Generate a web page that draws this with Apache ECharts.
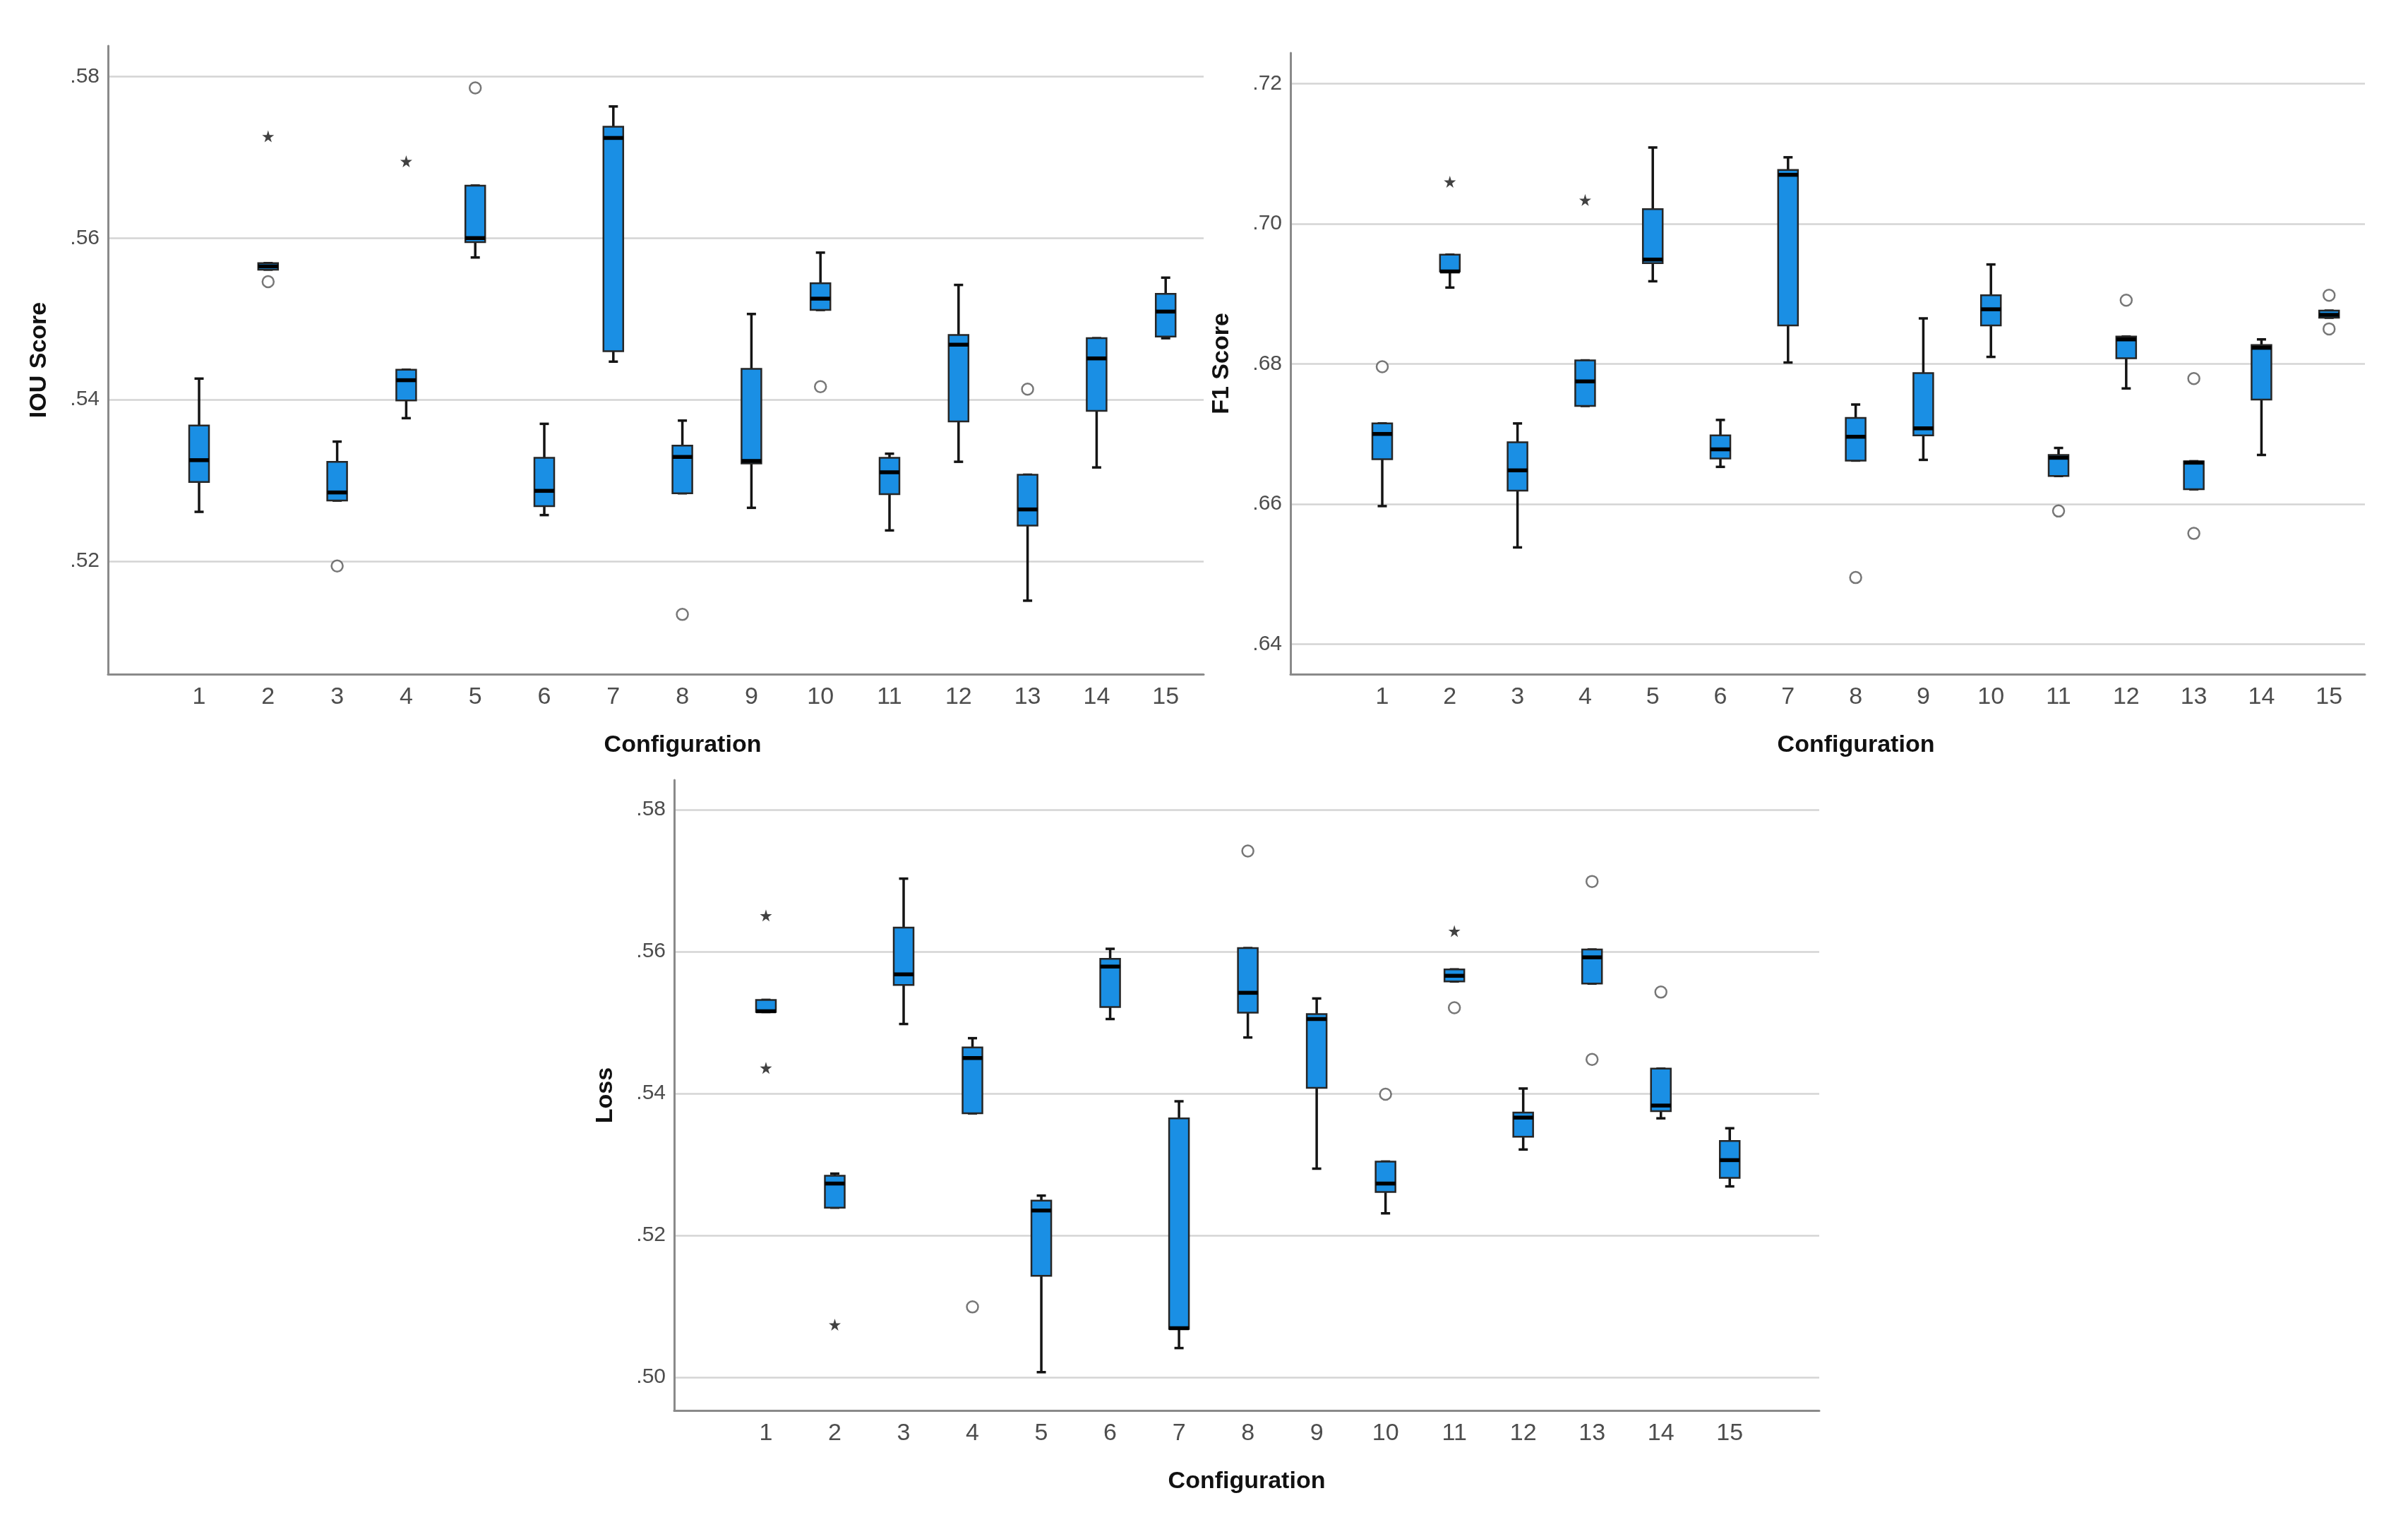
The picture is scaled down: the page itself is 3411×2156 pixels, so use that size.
<!DOCTYPE html>
<html>
<head>
<meta charset="utf-8">
<title>Configuration box plots</title>
<script src="https://cdn.jsdelivr.net/npm/echarts@6/dist/echarts.min.js"></script>
<style>
  html, body { margin: 0; padding: 0; background: #fff; }
  #chart { width: 3411px; height: 2156px; }
</style>
</head>
<body>
<div id="chart"></div>
<script>
  // configurations on the x axis
  var configs = [1, 2, 3, 4, 5, 6, 7, 8, 9, 10, 11, 12, 13, 14, 15];

  // each box: [lower whisker, Q1, median, Q3, upper whisker]
  var iouBoxes = [
    [.5261, .5298, .5325, .5368, .5426],
    [.5561, .5561, .5565, .5569, .5569],
    [.5275, .5275, .5285, .5323, .5348],
    [.5377, .5399, .5424, .5437, .5437],
    [.5576, .5595, .5600, .5665, .5665],
    [.5257, .5268, .5287, .5328, .5370],
    [.5447, .5460, .5724, .5738, .5763],
    [.5284, .5284, .5329, .5343, .5374],
    [.5266, .5321, .5324, .5438, .5506],
    [.5511, .5511, .5525, .5544, .5582],
    [.5238, .5283, .5310, .5328, .5333],
    [.5323, .5373, .5468, .5480, .5542],
    [.5151, .5244, .5264, .5307, .5307],
    [.5316, .5386, .5451, .5476, .5476],
    [.5476, .5478, .5509, .5531, .5551]
  ];
  var iouCircles = [[2, .5546], [3, .5194], [5, .5786], [8, .5134], [10, .5416], [13, .5413]];
  var iouStars = [[2, .5726], [4, .5695]];

  var f1Boxes = [
    [.6597, .6664, .6700, .6715, .6715],
    [.6909, .6932, .6932, .6956, .6956],
    [.6538, .6619, .6648, .6688, .6715],
    [.6740, .6740, .6775, .6805, .6805],
    [.6918, .6944, .6949, .7021, .7109],
    [.6653, .6665, .6678, .6698, .6720],
    [.6802, .6855, .7070, .7077, .7095],
    [.6662, .6662, .6696, .6723, .6742],
    [.6663, .6698, .6708, .6787, .6865],
    [.6810, .6855, .6878, .6898, .6942],
    [.6640, .6640, .6666, .6670, .6680],
    [.6765, .6808, .6835, .6839, .6839],
    [.6621, .6621, .6659, .6661, .6661],
    [.6670, .6749, .6823, .6827, .6835],
    [.6866, .6866, .6870, .6876, .6876]
  ];
  var f1Circles = [[1, .6796], [8, .6495], [11, .6590], [12, .6891], [13, .6779], [13, .6558], [15, .6898], [15, .6850]];
  var f1Stars = [[2, .7060], [4, .7034]];

  var lossBoxes = [
    [.5515, .5515, .5516, .5532, .5532],
    [.5239, .5239, .5273, .5284, .5287],
    [.5498, .5553, .5568, .5634, .5703],
    [.5372, .5372, .5450, .5465, .5478],
    [.5007, .5143, .5235, .5249, .5256],
    [.5505, .5522, .5579, .5590, .5604],
    [.5041, .5068, .5069, .5365, .5389],
    [.5479, .5514, .5542, .5605, .5605],
    [.5294, .5408, .5505, .5512, .5534],
    [.5231, .5261, .5273, .5304, .5304],
    [.5558, .5558, .5566, .5575, .5575],
    [.5321, .5339, .5366, .5373, .5407],
    [.5555, .5555, .5592, .5603, .5603],
    [.5365, .5375, .5383, .5435, .5435],
    [.5269, .5281, .5306, .5333, .5351]
  ];
  var lossCircles = [[4, .5099], [8, .5742], [10, .5399], [11, .5521], [13, .5699], [13, .5448], [14, .5543]];
  var lossStars = [[1, .5651], [1, .5436], [2, .5074], [11, .5629]];

  var iouTicks = [.52, .54, .56, .58];
  var f1Ticks = [.64, .66, .68, .70, .72];
  var lossTicks = [.50, .52, .54, .56, .58];

  var BLUE = '#1a8fe4';
  var STAR = 'path://M50,0 L61,35 L98,35 L68,57 L79,91 L50,70 L21,91 L32,57 L2,35 L39,35 Z';
  var FONT = '"Liberation Sans", Arial, sans-serif';

  function boxData(boxes) {
    return boxes.map(function (b, i) { return [configs[i]].concat(b); });
  }

  function renderBox(params, api) {
    var x = api.value(0);
    var lo = api.coord([x, api.value(1)]);
    var q1 = api.coord([x, api.value(2)]);
    var med = api.coord([x, api.value(3)]);
    var q3 = api.coord([x, api.value(4)]);
    var hi = api.coord([x, api.value(5)]);
    var cx = lo[0], bw = 28, cw = 13;
    var line = { stroke: '#141414', lineWidth: 3.5 };
    return {
      type: 'group',
      children: [
        { type: 'line', shape: { x1: cx, y1: hi[1], x2: cx, y2: q3[1] }, style: line },
        { type: 'line', shape: { x1: cx, y1: q1[1], x2: cx, y2: lo[1] }, style: line },
        { type: 'line', shape: { x1: cx - cw / 2, y1: hi[1], x2: cx + cw / 2, y2: hi[1] }, style: line },
        { type: 'line', shape: { x1: cx - cw / 2, y1: lo[1], x2: cx + cw / 2, y2: lo[1] }, style: line },
        { type: 'rect', shape: { x: cx - bw / 2, y: q3[1], width: bw, height: Math.max(q1[1] - q3[1], 1) },
          style: { fill: BLUE, stroke: '#262626', lineWidth: 2.5 } },
        { type: 'line', shape: { x1: cx - bw / 2, y1: med[1], x2: cx + bw / 2, y2: med[1] },
          style: { stroke: '#000', lineWidth: 5.5 } }
      ]
    };
  }

  function tickFmt(v) {
    return v.toFixed(2).replace(/^0/, '');
  }

  var grids = [
    { left: 153, top: 65, width: 1552, height: 890 },
    { left: 1828, top: 75, width: 1522, height: 880 },
    { left: 955, top: 1105, width: 1622, height: 893 }
  ];

  var axisLine = { show: true, onZero: false, lineStyle: { color: '#8a8a8a', width: 3 } };

  function xAxisFor(idx, min, max, shift) {
    return {
      type: 'value', gridIndex: idx, min: min, max: max,
      name: 'Configuration', nameLocation: 'middle', nameGap: 84,
      nameTextStyle: { fontFamily: FONT, fontSize: 34, fontWeight: 'bold', color: '#111', padding: [0, 0, 0, shift] },
      axisLine: axisLine,
      axisTick: { show: false, customValues: configs },
      splitLine: { show: false },
      axisLabel: { customValues: configs, margin: 16, fontFamily: FONT, fontSize: 34, color: '#4d4d4d' }
    };
  }

  function yAxisFor(idx, min, max, name, ticks) {
    return {
      type: 'value', gridIndex: idx, min: min, max: max,
      name: name, nameLocation: 'middle', nameGap: 80,
      nameTextStyle: { fontFamily: FONT, fontSize: 34, fontWeight: 'bold', color: '#111' },
      axisLine: axisLine,
      axisTick: { show: false, customValues: ticks },
      splitLine: { show: true, lineStyle: { color: '#d4d4d4', width: 2.5 } },
      axisLabel: { customValues: ticks, margin: 12, fontFamily: FONT, fontSize: 30, color: '#4d4d4d', formatter: tickFmt }
    };
  }

  function seriesFor(idx, boxes, circles, stars) {
    return [
      {
        type: 'custom', xAxisIndex: idx, yAxisIndex: idx,
        renderItem: renderBox,
        encode: { x: 0, y: [1, 2, 3, 4, 5] },
        data: boxData(boxes), z: 3
      },
      {
        type: 'scatter', xAxisIndex: idx, yAxisIndex: idx,
        symbol: 'circle', symbolSize: 16,
        itemStyle: { color: '#fff', borderColor: '#555', borderWidth: 2.5 },
        data: circles, z: 4
      },
      {
        type: 'scatter', xAxisIndex: idx, yAxisIndex: idx,
        symbol: STAR, symbolSize: 17,
        itemStyle: { color: '#111' },
        data: stars, z: 4
      }
    ];
  }

  var chart = echarts.init(document.getElementById('chart'));
  chart.setOption({
    backgroundColor: '#fff',
    animation: false,
    grid: grids,
    xAxis: [
      xAxisFor(0, -0.319, 15.55, 76),
      xAxisFor(1, -0.357, 15.53, 80),
      xAxisFor(2, -0.333, 16.30, 0)
    ],
    yAxis: [
      yAxisFor(0, 0.5060, 0.5838, 'IOU Score', iouTicks),
      yAxisFor(1, 0.6357, 0.7244, 'F1 Score', f1Ticks),
      yAxisFor(2, 0.4953, 0.5842, 'Loss', lossTicks)
    ],
    series: [].concat(
      seriesFor(0, iouBoxes, iouCircles, iouStars),
      seriesFor(1, f1Boxes, f1Circles, f1Stars),
      seriesFor(2, lossBoxes, lossCircles, lossStars)
    )
  });
</script>
</body>
</html>
